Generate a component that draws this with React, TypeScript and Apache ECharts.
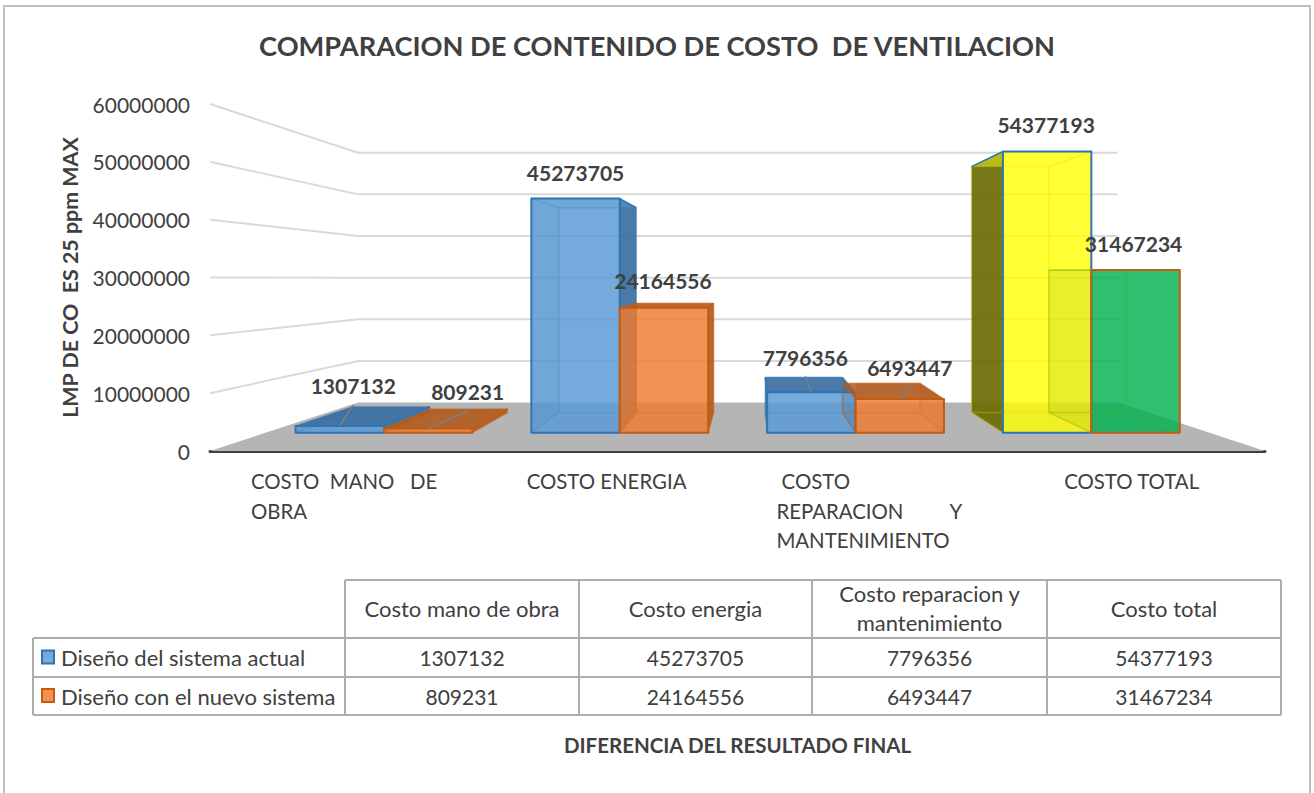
import React, { useEffect, useRef } from "react";
import * as echarts from "echarts";

const chartTitle = "COMPARACION DE CONTENIDO DE COSTO  DE VENTILACION";
const yAxisTitle = "LMP DE CO  ES 25 ppm MAX";
const xAxisTitle = "DIFERENCIA DEL RESULTADO FINAL";
const categories = ["COSTO MANO DE OBRA", "COSTO ENERGIA", "COSTO REPARACION Y MANTENIMIENTO", "COSTO TOTAL"];
const categoryLabelLines = [
  ["COSTO  MANO   DE", "OBRA"],
  ["COSTO ENERGIA"],
  [" COSTO", "REPARACION         Y", "MANTENIMIENTO"],
  ["COSTO TOTAL"],
];
const tableHeaders = [["Costo mano de obra"], ["Costo energia"], ["Costo reparacion y", "mantenimiento"], ["Costo total"]];
const seriesNames = ["Diseño del sistema actual", "Diseño con el nuevo sistema"];
const valuesActual = [1307132, 45273705, 7796356, 54377193];
const valuesNuevo = [809231, 24164556, 6493447, 31467234];
const yTicks = [0, 10000000, 20000000, 30000000, 40000000, 50000000, 60000000];

// layout
const FONT = "Lato";
const TEXT = "#404040";
const VP = [739, 278];
const WALL = 0.72;
const FRONT = 0.894;
const BVP = [752, 272];
const BACK = 0.875;
const BAR_SHARE = 0.375;

// label offsets from the top-centre of the front face: [dx, dy, leaderEndDx, leaderEndDy]
const labelOffsets = [
  [[13.5, -40, 13.5, -21], [0, -26, 0, 0], [-6, -35, -6, -16], [-1, -27, 0, 0]],
  [[39.5, -37, 40, -18], [-1, -27, 0, 0], [10, -32, 11, -13], [-2, -26, 0, 0]],
];
const catLabelX = [-91, -79, -93, -69];

type Look = { base: string; front: string; dark: string; light: string; edge: string; stroke: string; over: string };
const blue: Look = { base: "rgba(91,155,213,0.58)", front: "rgba(91,155,213,0.62)", dark: "rgba(55,105,155,0.82)", light: "rgba(80,140,195,0.6)", edge: "rgba(46,117,182,0.45)", stroke: "#2E75B6", over: "rgba(55,105,155,0.82)" };
const orange: Look = { base: "rgba(237,125,49,0.55)", front: "rgba(237,125,49,0.62)", dark: "rgba(170,90,35,0.85)", light: "rgba(225,115,45,0.58)", edge: "rgba(197,90,17,0.45)", stroke: "#C55A11", over: "rgba(60,70,90,0.12)" };
const yellow: Look = { base: "rgba(255,255,0,0.5)", front: "rgba(255,255,0,0.6)", dark: "rgba(95,95,5,0.85)", light: "rgba(255,255,0,0.5)", edge: "rgba(190,190,30,0.4)", stroke: "#2E75B6", over: "rgba(95,95,5,0.85)" };
const green: Look = { base: "rgba(0,176,80,0.55)", front: "rgba(0,176,80,0.6)", dark: "rgba(0,120,60,0.85)", light: "rgba(0,176,80,0.55)", edge: "rgba(150,190,20,0.5)", stroke: "#C55A11", over: "rgba(90,130,0,0.13)" };
const looks = [[blue, blue, blue, yellow], [orange, orange, orange, green]];

const toDepth = (p: number[], s: number, v: number[] = VP) => [v[0] + (p[0] - v[0]) * s, v[1] + (p[1] - v[1]) * s];

function poly(points: number[][], fill: string, stroke = "none", lineWidth = 0) {
  return { type: "polygon", shape: { points }, style: { fill, stroke, lineWidth, lineJoin: "round" }, silent: true };
}
function seg(a: number[], b: number[], stroke: string, lineWidth: number) {
  return { type: "line", shape: { x1: a[0], y1: a[1], x2: b[0], y2: b[1] }, style: { stroke, lineWidth, fill: "none" }, silent: true };
}
function txt(x: number, y: number, text: string, fontSize: number, opts: any = {}) {
  return { type: "text", x, y, silent: true, z: 5, style: { text, fontFamily: FONT, fontSize, fill: TEXT, align: "center", verticalAlign: "middle", ...opts } };
}

function barRenderer(seriesIndex: number) {
  return (params: any, api: any) => {
    const i = api.value(0) as number;
    const v = api.value(1) as number;
    const look = looks[seriesIndex][i];
    const band = api.size([1, 0])[0] as number;
    const [cx, y0] = api.coord([i, 0]);
    const yV = api.coord([i, v])[1];
    const x0 = seriesIndex === 0 ? cx - band * BAR_SHARE : cx;
    const x1 = x0 + band * BAR_SHARE;
    const f = (x: number, y: number) => toDepth([x, y], FRONT);
    const b = (p: number[]) => toDepth(p, BACK, BVP);
    const fbl = f(x0, y0), fbr = f(x1, y0), ftl = f(x0, yV), ftr = f(x1, yV);
    const bbl = b(fbl), bbr = b(fbr), btl = b(ftl), btr = b(ftr);

    // The second series sits behind the first one's front: whatever of its
    // back and floor faces falls left of its own front is left to the left face.
    const cutLeft = seriesIndex === 1 && btl[0] < ftl[0];
    const backLx = cutLeft ? ftl[0] : btl[0];
    const leftFill = btl[0] < ftl[0] ? look.over : look.light;

    const children: any[] = [
      poly([fbl, fbr, bbr, [backLx, bbl[1]]], look.base),
      poly([[backLx, bbl[1]], bbr, btr, [backLx, btl[1]]], look.base),
      poly([fbl, ftl, btl, bbl], leftFill),
      poly([fbr, ftr, btr, bbr], btr[0] > ftr[0] ? look.dark : look.light),
      poly([ftl, ftr, btr, btl], btl[1] < ftl[1] ? look.dark : look.light),
      seg(bbl, bbr, look.edge, 1.5),
      seg(bbl, btl, look.edge, 1.5),
      seg(bbr, btr, look.edge, 1.5),
      seg(btl, btr, look.edge, 1.5),
      seg(fbl, bbl, look.edge, 1.5),
      seg(fbr, bbr, look.edge, 1.5),
      seg(ftl, btl, seriesIndex === 0 && btl[0] < ftl[0] ? look.stroke : look.edge, 1.5),
      seg(ftr, btr, btr[0] > ftr[0] ? look.stroke : look.edge, 1.5),
      poly([fbl, fbr, ftr, ftl], look.front, look.stroke, 2),
    ];
    const off = labelOffsets[seriesIndex][i];
    const topCx = (ftl[0] + ftr[0]) / 2;
    const topY = ftl[1];
    if (off[2] !== 0 || off[3] !== 0) {
      children.push(seg([topCx, topY], [topCx + off[2], topY + off[3]], "#7F7F7F", 1.5));
    }
    children.push(txt(topCx + off[0], topY + off[1], String(v), 21, { fontWeight: "bold" }));
    return { type: "group", children };
  };
}

function floorRenderer(params: any, api: any) {
  const cs = params.coordSys;
  const y0 = api.coord([0, 0])[1];
  const left = [cs.x, y0];
  const right = [cs.x + cs.width, y0];
  return poly([left, right, toDepth(right, WALL), toDepth(left, WALL)], "#B5B5B5");
}

function gridRenderer(params: any, api: any) {
  const cs = params.coordSys;
  const v = api.value(0) as number;
  if (v === 0) return { type: "group", children: [] };
  const y = api.coord([0, v])[1];
  const a = [cs.x, y];
  const bk = toDepth(a, WALL);
  const end = toDepth([cs.x + cs.width, y], WALL);
  return {
    type: "group",
    children: [seg(a, bk, "#D9D9D9", 2), seg(bk, end, "#D9D9D9", 2)],
  };
}

function catLabelRenderer(params: any, api: any) {
  const i = api.value(0) as number;
  const [cx, y0] = api.coord([i, 0]);
  const lines = categoryLabelLines[i];
  return {
    type: "group",
    children: lines.map((line, k) =>
      txt(cx + catLabelX[i], y0 + 30 + k * 29.7, line, 20.4, { align: "left" })
    ),
  };
}

function tableGraphics() {
  const LINE = "#ADADAD";
  const colX = [345, 579, 812, 1047, 1281];
  const rowY = [580, 638, 677, 715];
  const labelLeft = 33;
  const els: any[] = [];
  const line = (x1: number, y1: number, x2: number, y2: number) => ({
    type: "line", shape: { x1, y1, x2, y2 }, style: { stroke: LINE, lineWidth: 2 }, silent: true,
  });
  els.push(line(colX[0], rowY[0], colX[4], rowY[0]));
  els.push(line(labelLeft, rowY[1], colX[4], rowY[1]));
  els.push(line(labelLeft, rowY[2], colX[4], rowY[2]));
  els.push(line(labelLeft, rowY[3], colX[4], rowY[3]));
  colX.forEach((x) => els.push(line(x, rowY[0], x, rowY[3])));
  els.push(line(labelLeft, rowY[1], labelLeft, rowY[3]));

  tableHeaders.forEach((lines, c) => {
    const cx = (colX[c] + colX[c + 1]) / 2;
    const my = (rowY[0] + rowY[1]) / 2 - 1;
    lines.forEach((l, k) => {
      els.push(txt(cx, my + (k - (lines.length - 1) / 2) * 29, l, 22));
    });
  });
  const rows = [valuesActual, valuesNuevo];
  rows.forEach((vals, r) => {
    const my = (rowY[r + 1] + rowY[r + 2]) / 2;
    const lk = r === 0 ? blue : orange;
    els.push({
      type: "rect", shape: { x: 42, y: my - 7, width: 12, height: 13 },
      style: { fill: r === 0 ? "#76A9DC" : "#F0914F", stroke: lk.stroke, lineWidth: 2 }, silent: true,
    });
    els.push(txt(61, my, seriesNames[r], 22, { align: "left" }));
    vals.forEach((v, c) => {
      els.push(txt((colX[c] + colX[c + 1]) / 2, my, String(v), 21));
    });
  });
  els.push({
    type: "rect", shape: { x: 4, y: 6, width: 1306, height: 800 },
    style: { fill: "none", stroke: "#BFBFBF", lineWidth: 2 }, silent: true,
  });
  return els;
}

export default function App() {
  const ref = useRef<HTMLDivElement>(null);
  useEffect(() => {
    document.body.style.margin = "0";
    const chart = echarts.init(ref.current!, undefined, { renderer: "svg" });
    const catIdx = categories.map((_, i) => i);
    chart.setOption({
      animation: false,
      backgroundColor: "#fff",
      title: {
        text: chartTitle, left: 652, top: 27, textAlign: "center",
        textStyle: { fontFamily: FONT, fontSize: 27.2, fontWeight: "bold", color: TEXT },
      },
      grid: { left: 210, right: 49, top: 104, height: 347, containLabel: false },
      xAxis: {
        type: "category", data: categories,
        axisLine: { show: true, lineStyle: { color: "#404040", width: 3 } },
        axisTick: { show: false },
        axisLabel: { show: false },
        splitLine: { show: false },
        name: xAxisTitle, nameLocation: "middle", nameGap: 283,
        nameTextStyle: { fontFamily: FONT, fontSize: 20.5, fontWeight: "bold", color: TEXT },
      },
      yAxis: {
        type: "value", min: 0, max: 60000000, interval: 10000000,
        axisLine: { show: false }, axisTick: { show: false }, splitLine: { show: false },
        axisLabel: { fontFamily: FONT, fontSize: 21, color: TEXT, margin: 20, formatter: (v: number) => String(v) },
        name: yAxisTitle, nameLocation: "middle", nameGap: 130,
        nameTextStyle: { fontFamily: FONT, fontSize: 21.4, fontWeight: "bold", color: TEXT },
      },
      graphic: tableGraphics(),
      series: [
        { type: "custom", name: "floor", renderItem: floorRenderer, data: [[0]], encode: { x: -1, y: -1 }, silent: true, clip: false, z: 1 },
        { type: "custom", name: "grid", renderItem: gridRenderer, data: yTicks.map((t) => [t]), encode: { x: -1, y: -1 }, silent: true, clip: false, z: 1 },
        { type: "custom", name: "labels", renderItem: catLabelRenderer, data: catIdx.map((i) => [i]), encode: { x: 0, y: -1 }, silent: true, clip: false, z: 2 },
        { type: "custom", name: seriesNames[0], renderItem: barRenderer(0), data: valuesActual.map((v, i) => [i, v]), encode: { x: 0, y: 1 }, clip: false, z: 3 },
        { type: "custom", name: seriesNames[1], renderItem: barRenderer(1), data: valuesNuevo.map((v, i) => [i, v]), encode: { x: 0, y: 1 }, clip: false, z: 4 },
      ],
    });
    return () => chart.dispose();
  }, []);
  return <div ref={ref} style={{ width: 1314, height: 793 }} />;
}
